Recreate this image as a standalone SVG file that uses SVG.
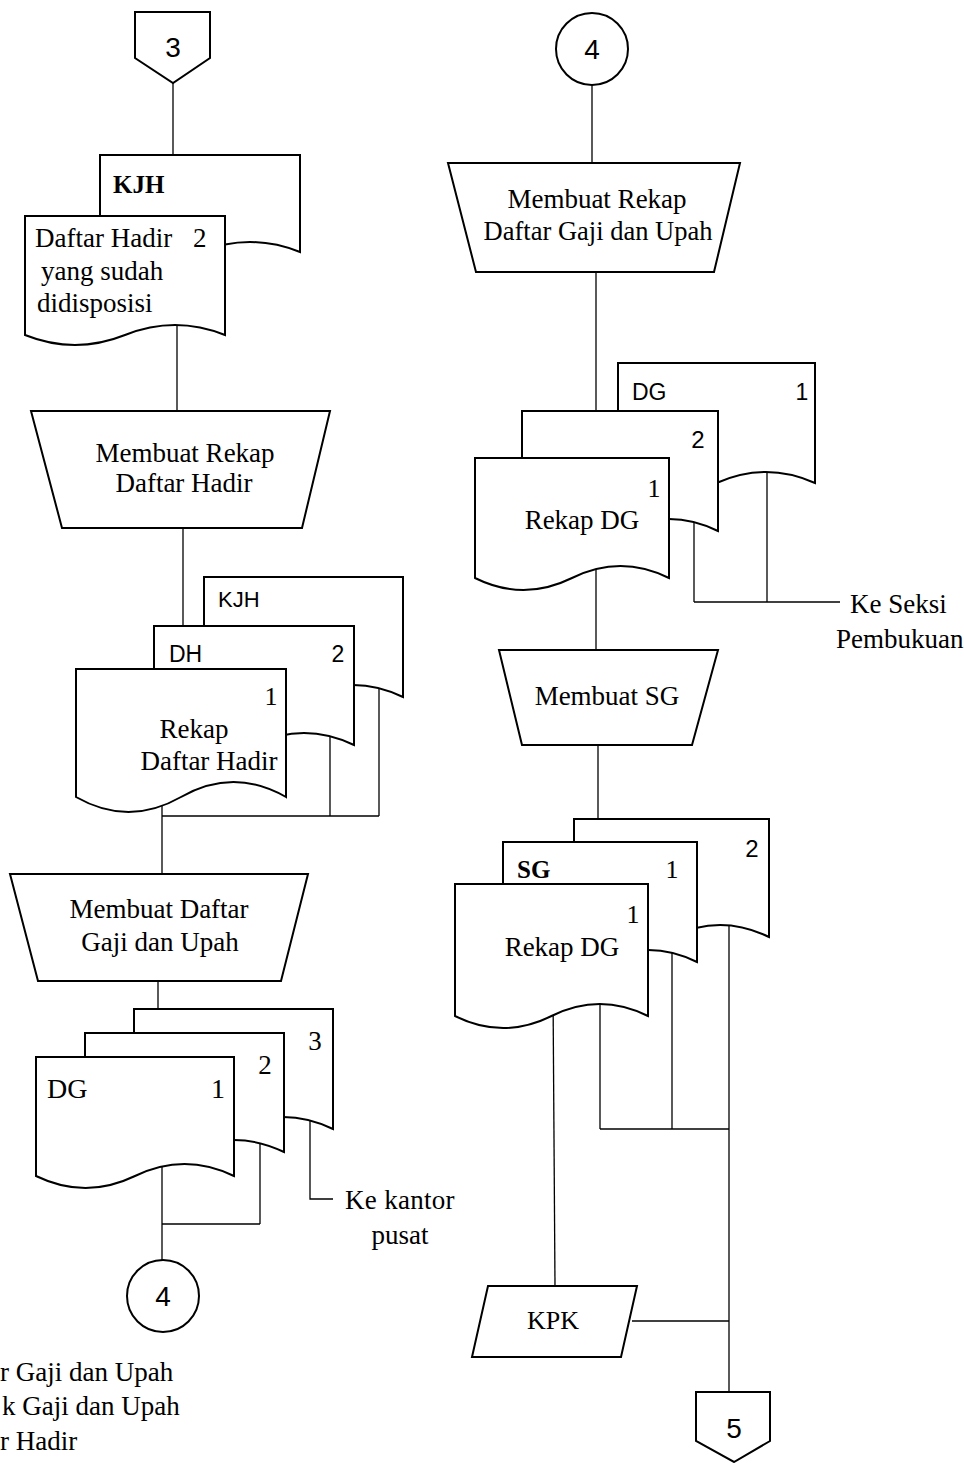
<svg xmlns="http://www.w3.org/2000/svg" width="964" height="1463" viewBox="0 0 964 1463">
<style>
.s{fill:#fff;stroke:#000;stroke-width:2;stroke-linejoin:miter}
.c{fill:none;stroke:#000;stroke-width:1.3}
.t{font-family:"Liberation Serif","Times New Roman",serif;font-size:27px;fill:#000}
.tb{font-family:"Liberation Serif","Times New Roman",serif;font-size:25px;font-weight:bold;fill:#000}
.ts{font-family:"Liberation Sans",Arial,sans-serif;font-size:23px;fill:#000}
.tn{font-family:"Liberation Sans",Arial,sans-serif;font-size:28px;fill:#000}
.m{text-anchor:middle}
</style>
<rect width="964" height="1463" fill="#fff"/>
<g id="connectors">
<path class="c" d="M173,83 V155"/>
<path class="c" d="M177,300 V411"/>
<path class="c" d="M183,528 V626"/>
<path class="c" d="M330,700 V816"/>
<path class="c" d="M379,660 V816"/>
<path class="c" d="M162,816 H379"/>
<path class="c" d="M162,780 V874"/>
<path class="c" d="M158,981 V1009"/>
<path class="c" d="M310,1100 V1199 H333"/>
<path class="c" d="M260,1130 V1224"/>
<path class="c" d="M162,1150 V1260"/>
<path class="c" d="M162,1224 H260"/>
<path class="c" d="M592,85 V163"/>
<path class="c" d="M596,272 V411"/>
<path class="c" d="M694,500 V602"/>
<path class="c" d="M767,440 V602"/>
<path class="c" d="M694,602 H840"/>
<path class="c" d="M596,540 V650"/>
<path class="c" d="M598,745 V819"/>
<path class="c" d="M553,990 L555,1286"/>
<path class="c" d="M600,980 V1129"/>
<path class="c" d="M672,920 V1129"/>
<path class="c" d="M600,1129 H729"/>
<path class="c" d="M729,900 V1392"/>
<path class="c" d="M632,1321 H729"/>
</g>
<g id="off-page-3">
<polygon class="s" points="135,12 210,12 210,58 173,83 135,58"/>
<text class="tn m" x="173" y="57">3</text>
</g>
<g id="doc-kjh-1">
<path class="s" d="M100,155 H300 V252 Q250,232 200,252 Q150,272 100,252 Z"/>
<text class="tb" x="113" y="193">KJH</text>
</g>
<g id="doc-daftar-hadir">
<path class="s" d="M25,216 H225 V335 Q175,315 125,335 Q75,355 25,335 Z"/>
<text class="t" x="35" y="247">Daftar Hadir<tspan x="193">2</tspan></text>
<text class="t" x="41" y="280">yang sudah</text>
<text class="t" x="37" y="312">didisposisi</text>
</g>
<g id="proc-rekap-dh">
<polygon class="s" points="31,411 330,411 302,528 62,528"/>
<text class="t m" x="185" y="462">Membuat Rekap</text>
<text class="t m" x="184" y="492">Daftar Hadir</text>
</g>
<g id="doc-kjh-2">
<path class="s" d="M204,577 H403 V697 Q353,673 303.5,697 Q254,721 204,697 Z"/>
<text class="ts" x="218" y="607" style="font-size:22px">KJH</text>
</g>
<g id="doc-dh">
<path class="s" d="M154,626 H354 V745 Q304,721 254,745 Q204,769 154,745 Z"/>
<text class="ts" x="169" y="662">DH</text>
<text class="ts m" x="338" y="662">2</text>
</g>
<g id="doc-rekap-dh">
<path class="s" d="M76,669 H286 V797 Q233.5,767 181,797 Q128.5,827 76,797 Z"/>
<text class="t m" x="271" y="705" style="font-size:26px">1</text>
<text class="t m" x="194" y="738">Rekap</text>
<text class="t m" x="209" y="770">Daftar Hadir</text>
</g>
<g id="proc-daftar-gaji">
<polygon class="s" points="10,874 308,874 281,981 38,981"/>
<text class="t m" x="159" y="918">Membuat Daftar</text>
<text class="t m" x="160" y="951">Gaji dan Upah</text>
</g>
<g id="doc-dg-3">
<path class="s" d="M134,1009 H333 V1129 Q283,1105 233.5,1129 Q184,1153 134,1129 Z"/>
<text class="t m" x="315" y="1050">3</text>
</g>
<g id="doc-dg-2">
<path class="s" d="M85,1033 H284 V1152 Q234,1128 184.5,1152 Q135,1176 85,1152 Z"/>
<text class="t m" x="265" y="1074">2</text>
</g>
<g id="doc-dg-1">
<path class="s" d="M36,1057 H234 V1176 Q184.5,1152 135,1176 Q85.5,1200 36,1176 Z"/>
<text class="t" x="47" y="1098" style="font-size:28px">DG</text>
<text class="t m" x="218" y="1098" style="font-size:28px">1</text>
</g>
<g id="label-ke-kantor">
<text class="t" x="345" y="1209" letter-spacing="0.3">Ke kantor</text>
<text class="t m" x="400" y="1244">pusat</text>
</g>
<g id="connector-4-out">
<circle class="s" cx="163" cy="1296" r="36"/>
<text class="tn m" x="163" y="1306">4</text>
</g>
<g id="legend">
<text class="t" x="0" y="1381">r Gaji dan Upah</text>
<text class="t" x="2" y="1415">k Gaji dan Upah</text>
<text class="t" x="0" y="1450">r Hadir</text>
</g>
<g id="connector-4-in">
<circle class="s" cx="592" cy="49" r="36"/>
<text class="tn m" x="592" y="59">4</text>
</g>
<g id="proc-rekap-dg">
<polygon class="s" points="448,163 740,163 714,272 476,272"/>
<text class="t m" x="597" y="208">Membuat Rekap</text>
<text class="t m" x="598" y="240" style="font-size:26.5px">Daftar Gaji dan Upah</text>
</g>
<g id="doc-dg-back">
<path class="s" d="M618,363 H815 V483 Q766,461 716.5,483 Q667,505 618,483 Z"/>
<text class="ts" x="632" y="400">DG</text>
<text class="ts m" x="802" y="400">1</text>
</g>
<g id="doc-rekap-dg-2">
<path class="s" d="M522,411 H718 V531 Q669,507 620,531 Q571,555 522,531 Z"/>
<text class="ts m" x="698" y="448" style="font-size:24px">2</text>
</g>
<g id="doc-rekap-dg-1">
<path class="s" d="M475,458 H669 V578 Q620.5,554 572,578 Q523.5,602 475,578 Z"/>
<text class="t m" x="654" y="497" style="font-size:26px">1</text>
<text class="t m" x="582" y="529">Rekap DG</text>
</g>
<g id="label-ke-seksi">
<text class="t" x="850" y="613">Ke Seksi</text>
<text class="t" x="836" y="648">Pembukuan</text>
</g>
<g id="proc-sg">
<polygon class="s" points="499,650 718,650 692,745 522,745"/>
<text class="t m" x="607" y="705">Membuat SG</text>
</g>
<g id="doc-sg-2">
<path class="s" d="M574,819 H769 V937 Q720,913 671.5,937 Q623,961 574,937 Z"/>
<text class="ts m" x="752" y="857" style="font-size:24px">2</text>
</g>
<g id="doc-sg-1">
<path class="s" d="M503,842 H697 V962 Q648.5,938 600,962 Q551.5,986 503,962 Z"/>
<text class="tb" x="517" y="878">SG</text>
<text class="t m" x="672" y="878" style="font-size:26px">1</text>
</g>
<g id="doc-rekap-dg-sg">
<path class="s" d="M455,884 H648 V1016 Q599.75,992 551.5,1016 Q503.25,1040 455,1016 Z"/>
<text class="t m" x="633" y="923" style="font-size:26px">1</text>
<text class="t m" x="562" y="956">Rekap DG</text>
</g>
<g id="input-kpk">
<polygon class="s" points="488,1286 637,1286 621,1357 472,1357"/>
<text class="t m" x="553" y="1329" style="font-size:26px">KPK</text>
</g>
<g id="off-page-5">
<polygon class="s" points="696,1392 770,1392 770,1441 734,1462 696,1441"/>
<text class="tn m" x="734" y="1438">5</text>
</g>
</svg>
